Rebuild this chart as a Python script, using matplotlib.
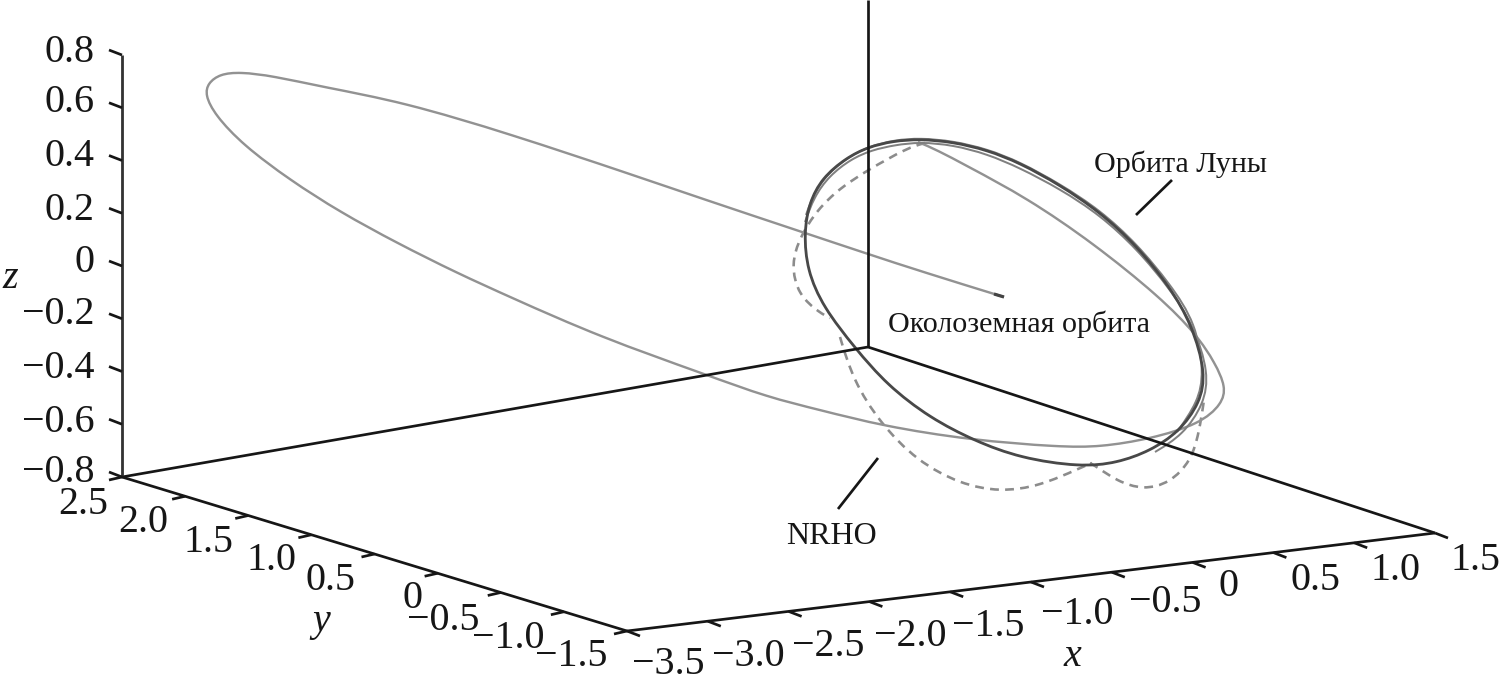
import numpy as np
import matplotlib
matplotlib.use("Agg")
import matplotlib.pyplot as plt
from matplotlib.path import Path
from matplotlib.patches import PathPatch

# ---- chart values (orbit traces in projected image coordinates) ----
moon_h = [804,809,822,846,868,893,920,953,987,1020,1060,1100,1137,1170,1192,1206,1200,1179,1150,1117,1080,1020,975,930,887,855,823,807]
moon_v = [233,203,178,158,147,141,139,142,150,163,185,212,246,287,325,373,403,432,451,463,467,458,441,418,385,348,307,270]
moon2_h = [805,814,829,851,872,895,920,953,987,1020,1060,1100,1137,1170,1194,1209,1204,1183,1155]
moon2_v = [222,197,176,159,150,145,142,145,154,168,189,215,249,289,326,373,404,435,452]
moon3_h = [806,812,825,848,870,895,920,953,987,1020,1060,1100,1137,1170,1196,1204,1198,1177]
moon3_v = [215,198,176,157,146,140,138,141,149,162,184,210,244,284,323,373,402,432]
earth_h = [1004,923,868,805,700,633,510,403,323,273,240,220,208,205,215,243,290,340,397,457,510,600,707,767,820,883,970,1060,1100,1150,1200,1222,1226,1215,1197,1160,1093,1027,967,937,918]
earth_v = [297,272,254,233,198,175,134,102,87,76,72,74,83,95,115,145,180,212,243,273,297,337,375,397,410,426,440,447,447,439,424,404,387,363,335,297,243,198,166,150,142]
nrho1_h = [925,907,868,840,817,800,791,798,820,830]
nrho1_v = [143,148,170,188,210,237,264,295,313,318]
nrho2_h = [840,853,880,917,960,1000,1040,1080,1092]
nrho2_v = [337,380,423,461,484,492,486,468,463]
nrho3_h = [1090,1097,1117,1143,1170,1191,1199,1204]
nrho3_v = [463,467,481,490,483,461,433,400]

x_ticks = [-3.5,-3.0,-2.5,-2.0,-1.5,-1.0,-0.5,0,0.5,1.0,1.5]
y_ticks = [2.5,2.0,1.5,1.0,0.5,0,-0.5,-1.0,-1.5]
z_ticks = [0.8,0.6,0.4,0.2,0,-0.2,-0.4,-0.6,-0.8]
x_labels = ["−3.5","−3.0","−2.5","−2.0","−1.5","−1.0","−0.5","0","0.5","1.0","1.5"]
y_labels = ["2.5","2.0","1.5","1.0","0.5","0","−0.5","−1.0","−1.5"]
z_labels = ["0.8","0.6","0.4","0.2","0","−0.2","−0.4","−0.6","−0.8"]
annotations = ["Орбита Луны","Околоземная орбита","NRHO"]

# ---- layout ----
C_BL = np.array([122.,477.]); C_BF = np.array([627.,631.]); C_BR = np.array([1435.,533.])
C_TOP = np.array([122.,55.]); C_BACK = np.array([868.,347.])
x_lab_pos = [(668,664),(748,656),(828,646),(910,636),(988,626),(1077,615),(1165,603),(1229,587),(1316,581),(1396,571),(1476,561)]
y_lab_pos = [(83,505),(143,523),(209,542),(272,561),(331,580),(413,598),(443,620),(508,638),(571,657)]
z_lab_right = 95
z_lab_y = [52,103,156,210,262,314,368,422,473]

plt.rcParams['font.family'] = ['Liberation Serif', 'DejaVu Serif']
fig = plt.figure(figsize=(14.99,6.87), dpi=100)
ax = fig.add_axes([0,0,1,1])
ax.set_xlim(0,1499); ax.set_ylim(687,0); ax.axis('off')
PX = 0.72  # points per pixel
FS = 40*PX
INK = '#161616'

def smooth(h, v, closed=False):
    """Cubic B-spline path with the read points as its control polygon."""
    p = np.column_stack([h,v]).astype(float)
    if closed:
        p = np.vstack([p, p[:3]])
    else:
        p = np.vstack([p[0], p[0], p, p[-1], p[-1]])
    start = (p[0]+4*p[1]+p[2])/6
    verts=[start]; codes=[Path.MOVETO]
    for i in range(1, len(p)-2):
        a,b,c,d = p[i-1],p[i],p[i+1],p[i+2]
        verts += [(2*b+c)/3, (b+2*c)/3, (b+4*c+d)/6]
        codes += [Path.CURVE4]*3
    return Path(verts,codes)

def curve(h,v,closed=False,**kw):
    ax.add_patch(PathPatch(smooth(h,v,closed),fill=False,capstyle='butt',**kw))

def seg(a,b,lw=2.7,color=INK):
    ax.plot([a[0],b[0]],[a[1],b[1]],color=color,lw=lw*PX,solid_capstyle='butt')

# axes frame
seg((868,0),C_BACK); seg(C_BACK,C_BL); seg(C_BACK,C_BR)
seg(C_TOP,C_BL,lw=2.8,color='#333333'); seg(C_BL,C_BF); seg(C_BF,C_BR)

# ticks via linear axis scales
for i,t in enumerate(z_ticks):
    f=(t-z_ticks[0])/(z_ticks[-1]-z_ticks[0]); p=C_TOP+f*(C_BL-C_TOP)
    seg(p,p+np.array([-13,-5]))
    ax.text(z_lab_right,z_lab_y[i],z_labels[i],fontsize=FS,ha='right',va='center',color=INK)
for i,t in enumerate(y_ticks):
    f=(t-y_ticks[0])/(y_ticks[-1]-y_ticks[0]); p=C_BL+f*(C_BF-C_BL)
    seg(p,p+np.array([-13,3]))
    ax.text(*y_lab_pos[i],y_labels[i],fontsize=FS,ha='center',va='center',color=INK)
for i,t in enumerate(x_ticks):
    f=(t-x_ticks[0])/(x_ticks[-1]-x_ticks[0]); p=C_BF+f*(C_BR-C_BF)
    seg(p,p+np.array([13,5]))
    ax.text(*x_lab_pos[i],x_labels[i],fontsize=FS,ha='center',va='center',color=INK)

# curves
for h,v in [(nrho1_h,nrho1_v),(nrho2_h,nrho2_v),(nrho3_h,nrho3_v)]:
    curve(h,v,edgecolor='#8c8c8c',lw=2.6*PX,linestyle=(0,(3.4,2.4)))
curve(earth_h,earth_v,edgecolor='#929292',lw=2.4*PX)
curve(moon2_h,moon2_v,edgecolor='#808080',lw=2.0*PX)
curve(moon3_h,moon3_v,edgecolor='#808080',lw=2.0*PX)
curve(moon_h,moon_v,closed=True,edgecolor='#484848',lw=2.8*PX)
seg((994,294),(1004,297),lw=3.2,color='#444444')

# letters
for s,px_,py_ in [("z",10,279),("y",321,622),("x",1072,657)]:
    ax.text(px_,py_,s,fontsize=FS,style='italic',ha='center',va='center',color=INK)

# annotations
ax.text(1181,164,annotations[0],fontsize=30*PX,ha='center',va='center',color=INK)
ax.text(1019,324,annotations[1],fontsize=30*PX,ha='center',va='center',color=INK)
ax.text(832,536,annotations[2],fontsize=32*PX,ha='center',va='center',color=INK)
seg((1172,180),(1136,215)); seg((878,458),(838,509))

fig.savefig('out.png',dpi=100)
